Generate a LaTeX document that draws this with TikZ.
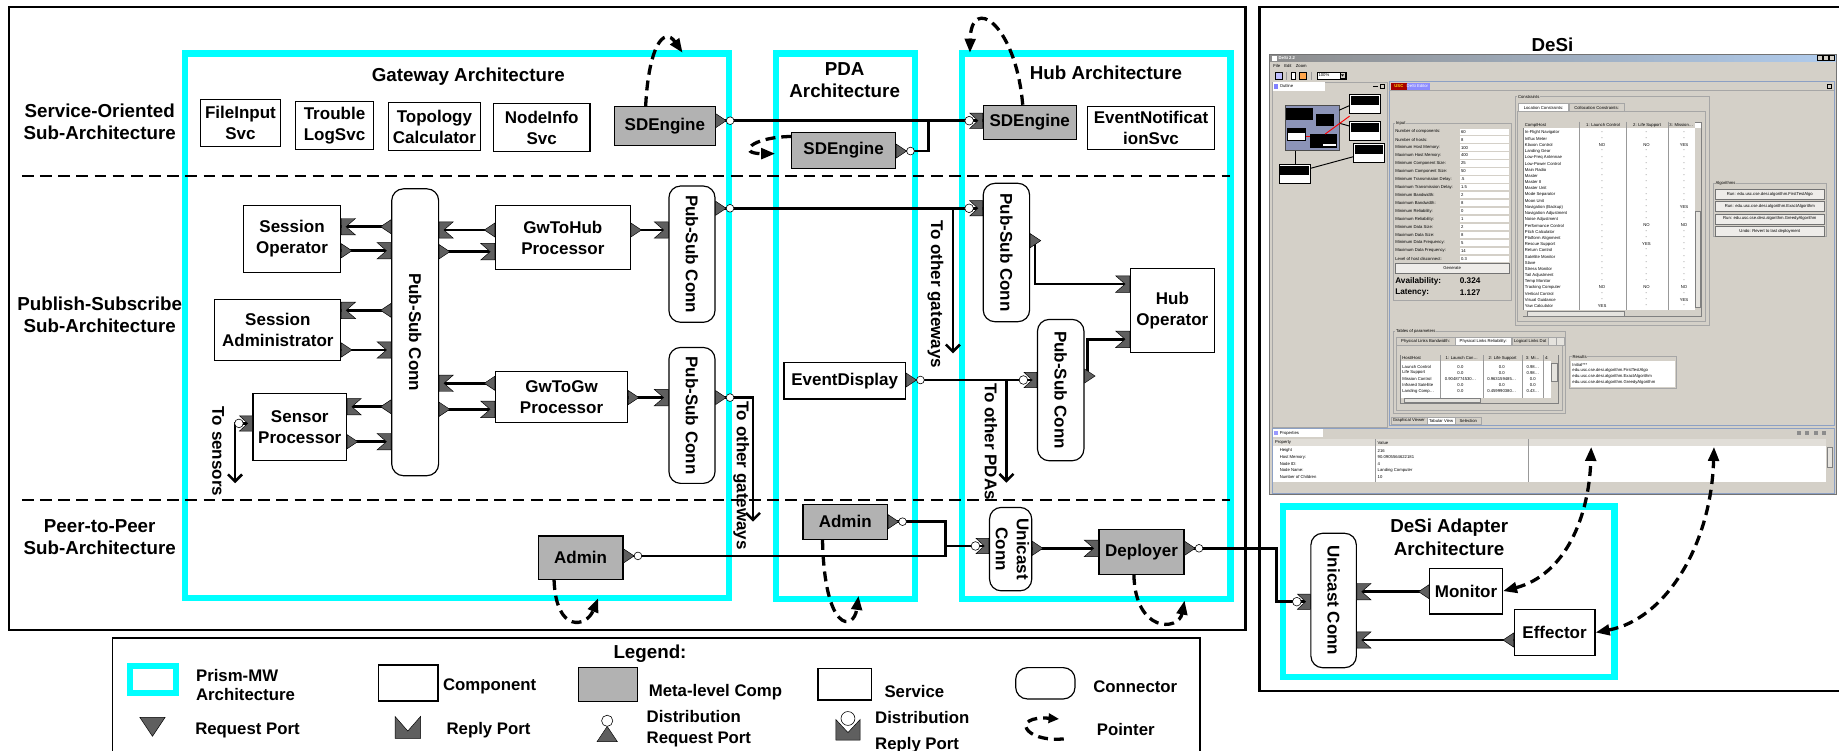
\documentclass[tikz,border=0pt]{standalone}
\usepackage{fontspec}
\setmainfont{Liberation Sans}
\usepackage{tikz}
\usetikzlibrary{arrows.meta, calc, positioning}
\usepackage{xcolor}

\definecolor{prism}{RGB}{0,255,255}
\definecolor{metagray}{RGB}{178,178,178}
\definecolor{portgray}{RGB}{95,95,95}
\definecolor{winbg}{RGB}{212,208,200}
\definecolor{winblue}{RGB}{176,204,238}
\definecolor{winframe}{RGB}{140,160,196}
\definecolor{outlinebg}{RGB}{140,148,184}

\newcommand{\ttlfont}{\bfseries\fontsize{16}{19}\selectfont}
\newcommand{\cmpfont}{\bfseries\fontsize{14.5}{18}\selectfont}
\newcommand{\lgdfont}{\bfseries\fontsize{14.3}{15.5}\selectfont}
\newcommand{\scrfont}{\fontsize{3.6}{4.2}\selectfont}

\tikzset{
  arch/.style={draw=prism, line width=5.5pt},
  outerframe/.style={draw=black, line width=2pt},
  divline/.style={line width=1.8pt, dash pattern=on 10pt off 5.5pt},
  ttl/.style={align=center, font=\ttlfont, inner sep=0pt},
  box/.style={draw=black, line width=1pt, fill=white, align=center, inner sep=0pt, font=\cmpfont},
  metabox/.style={box, fill=metagray},
  conn/.style={box, rounded corners=10pt},
  link/.style={line width=2.2pt},
  outlink/.style={link, -{Straight Barb[length=6pt, width=12pt]}},
  pointer/.style={line width=2.8pt, dash pattern=on 8.5pt off 5pt, -{Triangle[length=12pt, width=9pt]}},
  dualpointer/.style={pointer, {Triangle[length=12pt, width=9pt]}-{Triangle[length=12pt, width=9pt]}},
  lgd/.style={anchor=west, align=left, font=\lgdfont, inner sep=0pt},
  scr/.style={font=\scrfont, inner sep=0pt},
  grp/.style={draw=black!35, line width=0.4pt},
  btn/.style={draw=black!55, fill=winbg!40!white, line width=0.3pt},
  % 端口
  reqport/.pic={\filldraw[fill=portgray, draw=black, line width=0.4pt] (0,-6) -- (9,0) -- (0,6) -- cycle;},
  distreq/.pic={\filldraw[fill=portgray, draw=black, line width=0.4pt] (0,-6) -- (9,0) -- (0,6) -- cycle;
    \filldraw[fill=white, draw=black, line width=0.5pt] (12.3,0) circle (3.3);},
  repport/.pic={\filldraw[fill=portgray, draw=black, line width=0.4pt] (0,-7) -- (12,-7) -- (4,0) -- (12,7) -- (0,7) -- cycle;},
  distrep/.pic={\filldraw[fill=portgray, draw=black, line width=0.4pt] (0,-6.5) -- (11,-6.5) -- (4,0) -- (11,6.5) -- (0,6.5) -- cycle;
    \filldraw[fill=white, draw=black, line width=0.5pt] (11.5,0) circle (3.7);},
}

\begin{document}
\begin{tikzpicture}[x=1pt, y=-1pt]
    \useasboundingbox (0,0) rectangle (1568,640);

    % 外框
    \draw[outerframe] (7.5,6) rectangle (1062,537);
    \draw[outerframe] (1600,6) -- (1074,6) -- (1074,589) -- (1600,589);
    \draw[outerframe, line width=1.2pt] (96,660) -- (96,544) -- (1023,544) -- (1023,660);

    % 层次标签
    \node[ttl] (soa) at (85,104) {Service-Oriented\\Sub-Architecture};
    \node[ttl] (psa) at (85,268.3) {Publish-Subscribe\\Sub-Architecture};
    \node[ttl] (p2p) at (85,458) {Peer-to-Peer\\Sub-Architecture};

    % Prism-MW 架构
    \draw[arch] (157.7,45.8) rectangle (621.5,510);
    \draw[arch] (661.6,45.8) rectangle (780,510.5);
    \draw[arch] (820.4,45.8) rectangle (1049,510.5);
    \draw[arch] (1094,432) rectangle (1376.5,577);

    \node[ttl] (gwt) at (399.3,65.4) {Gateway Architecture};
    \node[ttl] (pdat) at (720.2,68.2) {PDA\\Architecture};
    \node[ttl] (hubt) at (943,61.7) {Hub Architecture};
    \node[ttl] (desit) at (1323.7,37.8) {DeSi};
    \node[ttl] (dadt) at (1235.6,458) {DeSi Adapter\\Architecture};

    % 分隔线
    \draw[divline] (18.6,150) -- (1049,150);
    \draw[divline] (18.6,426) -- (1049,426);

    % 服务
    \node[box, minimum width=68.6pt, minimum height=40.4pt] (fis) at (205,104.9) {FileInput\\Svc};
    \node[box, minimum width=66.1pt, minimum height=40.6pt] (tls) at (285.2,107) {Trouble\\LogSvc};
    \node[box, minimum width=78.5pt, minimum height=40.9pt] (tpc) at (370.4,108) {Topology\\Calculator};
    \node[box, minimum width=82.2pt, minimum height=41.2pt] (nis) at (461.9,108.7) {NodeInfo\\Svc};
    \node[box, minimum width=108.1pt, minimum height=36.3pt] (evn) at (981.4,109.2) {EventNotificat\\ionSvc};
    \node[metabox, minimum width=85.7pt, minimum height=32.9pt] (gsde) at (566.9,107.5) {SDEngine};
    \node[metabox, minimum width=79.3pt, minimum height=29pt] (hsde) at (878,104.3) {SDEngine};
    \node[metabox, minimum width=88.4pt, minimum height=30.7pt] (psde) at (719.3,128.2) {SDEngine};

    % 网关组件
    \node[box, minimum width=83.1pt, minimum height=56.8pt] (sop) at (249,203.8) {Session\\Operator};
    \node[box, minimum width=107.5pt, minimum height=52.3pt] (sadm) at (236.9,281.4) {Session\\Administrator};
    \node[box, minimum width=79.8pt, minimum height=57.4pt] (sproc) at (255.6,364.1) {Sensor\\Processor};
    \node[box, minimum width=114.9pt, minimum height=54.2pt] (gth) at (479.9,202.5) {GwToHub\\Processor};
    \node[box, minimum width=112.8pt, minimum height=43.5pt] (gtg) at (478.8,338.7) {GwToGw\\Processor};
    \node[conn, minimum width=40pt, minimum height=244.6pt] (gpsc) at (354,283.3) {\rotatebox{-90}{Pub-Sub Conn}};
    \node[conn, minimum width=39.3pt, minimum height=116.2pt] (gpsc1) at (590,216.7) {\rotatebox{-90}{Pub-Sub Conn}};
    \node[conn, minimum width=39.3pt, minimum height=115.9pt] (gpsc2) at (590,354.2) {\rotatebox{-90}{Pub-Sub Conn}};
    \node[metabox, minimum width=72.3pt, minimum height=37pt] (gadm) at (495,475.5) {Admin};

    % PDA 组件
    \node[box, minimum width=103.6pt, minimum height=31pt] (evd) at (720.2,324.7) {EventDisplay};
    \node[metabox, minimum width=72.1pt, minimum height=29.8pt] (padm) at (720.7,444.9) {Admin};

    % Hub 组件
    \node[conn, minimum width=39.6pt, minimum height=118pt] (hpsc1) at (858.1,215.3) {\rotatebox{-90}{Pub-Sub Conn}};
    \node[box, minimum width=71.6pt, minimum height=71.9pt] (hop) at (999.6,264.8) {Hub\\Operator};
    \node[conn, minimum width=39.6pt, minimum height=120.5pt] (hpsc2) at (904.4,332.6) {\rotatebox{-90}{Pub-Sub Conn}};
    \node[conn, minimum width=31.9pt, minimum height=71.1pt] (huc) at (861.7,468.2) {\rotatebox{-90}{\begin{tabular}{@{}c@{}}Unicast\\Conn\end{tabular}}};
    \node[metabox, minimum width=72.5pt, minimum height=38.4pt] (dep) at (973.3,470.5) {Deployer};

    % DeSi 适配器
    \node[conn, minimum width=38.8pt, minimum height=114.6pt] (duc) at (1137.1,512) {\rotatebox{-90}{Unicast Conn}};
    \node[box, minimum width=62pt, minimum height=38.9pt] (mon) at (1250,504) {Monitor};
    \node[box, minimum width=68.9pt, minimum height=39.6pt] (eff) at (1325.5,539.3) {Effector};

    % 去向标注
    \coordinate (togw1) at (812.5,301.3);
    \coordinate (togw2) at (642,444.8);
    \coordinate (tosens) at (200.4,412);
    \coordinate (topda) at (858.1,411.6);
    \coordinate (sdj) at (791.8,102.9);
    \coordinate (adj) at (806.4,465.5);
    \coordinate (dpj) at (1088.3,513);
    \node[font=\cmpfont, rotate=-90] (togw1t) at (797.7,250.8) {To other gateways};
    \node[font=\cmpfont, rotate=-90] (togw2t) at (632,405.7) {To other gateways};
    \node[font=\cmpfont, rotate=-90] (tosenst) at (186,385) {To sensors};
    \node[font=\cmpfont, rotate=-90] (topdat) at (845,376.5) {To other PDAs};

    % 连接线
    \draw[link] (gpsc.west |- 0,193.3) -- (sop.east |- 0,193.3);
    \draw[link] (sop.east |- 0,213.8) -- (gpsc.west |- 0,213.8);
    \draw[link] (gpsc.west |- 0,264.6) -- (sadm.east |- 0,264.6);
    \draw[link] (sadm.east |- 0,298.4) -- (gpsc.west |- 0,298.4);
    \draw[link] (gpsc.west |- 0,346.8) -- (sproc.east |- 0,346.8);
    \draw[link] (sproc.east |- 0,376.6) -- (gpsc.west |- 0,376.6);
    \draw[link] (gth.west |- 0,196.1) -- (gpsc.east |- 0,196.1);
    \draw[link] (gpsc.east |- 0,214.6) -- (gth.west |- 0,214.6);
    \draw[link] (gtg.west |- 0,326.8) -- (gpsc.east |- 0,326.8);
    \draw[link] (gpsc.east |- 0,349) -- (gtg.west |- 0,349);
    \draw[link] (gth.east |- 0,196.1) -- (gpsc1.west |- 0,196.1);
    \draw[link] (gtg.east |- 0,339) -- (gpsc2.west |- 0,339);
    \draw[link] (gpsc1.east |- 0,177.6) -- (hpsc1.west |- 0,177.6);
    \draw[outlink] (togw1 |- 0,177.6) -- (togw1);
    \draw[outlink] (gpsc2.east |- 0,339) -| (togw2);
    \draw[outlink] (sproc.west |- 0,361) -| (tosens);
    \draw[link] (gsde.east |- 0,102.9) -- (hsde.west |- 0,102.9);
    \draw[link] (psde.east |- 0,128.8) -| (sdj);
    \draw[link] (evd.east |- 0,324) -- (hpsc2.west |- 0,324);
    \draw[outlink] (topda |- 0,324) -- (topda);
    \draw[link] ($(hpsc1.east |- 0,205.2)+(4,0)$) |- (hop.west |- 0,242.2);
    \draw[link] ($(hpsc2.east |- 0,320.6)+(2.5,0)$) |- (hop.west |- 0,289.3);
    \draw[link] (gadm.east |- 0,474) -| (adj);
    \draw[link] (padm.east |- 0,444.8) -| (adj);
    \draw[link] (adj) -- (huc.west |- adj);
    \draw[link] (huc.east |- 0,467.5) -- (dep.west |- 0,467.5);
    \draw[link] (dep.east |- 0,467.5) -| (dpj) -- (duc.west |- dpj);
    \draw[link] (mon.west |- 0,504.5) -- (duc.east |- 0,504.5);
    \draw[link] (eff.west |- 0,545.7) -- (duc.east |- 0,545.7);

    % 端口
    \pic[rotate=180] at (gpsc.west |- 0,193.3) {reqport};
    \pic at (sop.east |- 0,193.3) {repport};
    \pic at (sop.east |- 0,213.8) {reqport};
    \pic[rotate=180] at (gpsc.west |- 0,213.8) {repport};
    \pic[rotate=180] at (gpsc.west |- 0,264.6) {reqport};
    \pic at (sadm.east |- 0,264.6) {repport};
    \pic at (sadm.east |- 0,298.4) {reqport};
    \pic[rotate=180] at (gpsc.west |- 0,298.4) {repport};
    \pic[rotate=180] at (gpsc.west |- 0,346.8) {reqport};
    \pic at (sproc.east |- 0,346.8) {repport};
    \pic at (sproc.east |- 0,376.6) {reqport};
    \pic[rotate=180] at (gpsc.west |- 0,376.6) {repport};
    \pic[rotate=180] at (gth.west |- 0,196.1) {reqport};
    \pic at (gpsc.east |- 0,196.1) {repport};
    \pic at (gpsc.east |- 0,214.6) {reqport};
    \pic[rotate=180] at (gth.west |- 0,214.6) {repport};
    \pic[rotate=180] at (gtg.west |- 0,326.8) {reqport};
    \pic at (gpsc.east |- 0,326.8) {repport};
    \pic at (gpsc.east |- 0,349) {reqport};
    \pic[rotate=180] at (gtg.west |- 0,349) {repport};
    \pic at (gth.east |- 0,196.1) {reqport};
    \pic[rotate=180] at (gpsc1.west |- 0,196.1) {repport};
    \pic at (gtg.east |- 0,339) {reqport};
    \pic[rotate=180] at (gpsc2.west |- 0,339) {repport};
    \pic at (gpsc1.east |- 0,177.6) {distreq};
    \pic at (gpsc2.east |- 0,339) {distreq};
    \pic[rotate=180] at (sproc.west |- 0,361) {distrep};
    \pic at (gsde.east |- 0,102.9) {distreq};
    \pic at (gadm.east |- 0,474) {distreq};
    \pic at (psde.east |- 0,128.8) {distreq};
    \pic at (evd.east |- 0,324) {distreq};
    \pic at (padm.east |- 0,444.8) {distreq};
    \pic[rotate=180] at (hsde.west |- 0,102.9) {distrep};
    \pic[rotate=180] at (hpsc1.west |- 0,177.6) {distrep};
    \pic at (hpsc1.east |- 0,205.2) {reqport};
    \pic[rotate=180] at (hop.west |- 0,242.2) {repport};
    \pic[rotate=180] at (hpsc2.west |- 0,324) {distrep};
    \pic at (hpsc2.east |- 0,320.6) {reqport};
    \pic[rotate=180] at (hop.west |- 0,289.3) {repport};
    \pic[rotate=180] at (huc.west |- 0,465.5) {distrep};
    \pic at (huc.east |- 0,467.5) {reqport};
    \pic[rotate=180] at (dep.west |- 0,467.5) {repport};
    \pic at (dep.east |- 0,467.5) {distreq};
    \pic[rotate=180] at (duc.west |- 0,513) {distrep};
    \pic at (duc.east |- 0,504.5) {repport};
    \pic at (duc.east |- 0,545.7) {repport};
    \pic[rotate=180] at (mon.west |- 0,504.5) {reqport};
    \pic[rotate=180] at (eff.west |- 0,545.7) {reqport};

    % 指针
    \draw[pointer] ($(gsde.north)+(-16.4,0)$) .. controls (553,40) and (566,22) .. (582,45);
    \draw[pointer] ($(hsde.north)+(-6,0)$) .. controls (866,20) and (828,-5) .. (827,45);
    \draw[pointer] ($(psde.north west)+(0,4)$) .. controls (640,117) and (628,131) .. (661,131);
    \draw[pointer] ($(gadm.south)+(-22.6,0)$) .. controls (474,540) and (500,535) .. (510,510);
    \draw[pointer] ($(padm.south)+(-19.4,0)$) .. controls (703,540) and (728,538) .. (732,508);
    \draw[pointer] ($(dep.south)+(-6.5,0)$) .. controls (968,540) and (1005,538) .. (1010,512);

    % DeSi 截图
    \fill[winbg] (1082.5,46.3) rectangle (1565.5,421.5);
    \shade[left color=black!45, right color=winblue] (1082.5,46.3) rectangle (1565.5,52.8);
    \draw[black!55, line width=0.5pt] (1082.5,46.3) rectangle (1565.5,421.5);
    \fill[white] (1084.2,47.6) rectangle (1088.4,51.6);
    \node[scr, text=white, anchor=west] (wtitle) at (1090,49.6) {\bfseries DeSi 2.2};
    \foreach \i in {0,1,2}
        \draw[fill=winbg, line width=0.25pt] ({1549.5+5*\i},47.4) rectangle ++(4.2,4.2);
    \node[scr, anchor=west] (wmenu) at (1085.5,56.2) {File\quad Edit\quad Zoom};
    \draw[fill=blue!25, line width=0.3pt] (1087.6,61.6) rectangle (1093.6,67.2);
    \draw[black!40, line width=0.3pt] (1097,61) -- (1097,67.8);
    \draw[fill=white, line width=0.3pt] (1100.5,61.6) rectangle (1104.5,67.2);
    \draw[fill=orange!70, line width=0.3pt] (1107.5,61.6) rectangle (1114,67.2);
    \draw[black!40, line width=0.3pt] (1118,61) -- (1118,67.8);
    \draw[fill=white, line width=0.3pt] (1122.9,61.3) rectangle (1147.5,67.4);
    \node[scr, anchor=west] (wzoom) at (1124,64.3) {100\%};
    \draw[fill=winbg, line width=0.3pt] (1142.3,61.8) rectangle (1147,66.9);
    \fill (1143.4,63.5) -- (1145.9,63.5) -- (1144.65,65.2) -- cycle;

    % 大纲面板
    \draw[black!35, line width=0.4pt] (1085,69.7) rectangle (1182.7,364);
    \fill[white] (1085.3,70) rectangle (1130,77.3);
    \fill[blue!50] (1086.5,71.6) rectangle (1089.5,75.6);
    \node[scr, anchor=west] (wout) at (1091,73.6) {Outline};
    \draw[line width=0.3pt] (1177,71.8) rectangle (1180.5,75.3);
    \draw[line width=0.3pt] (1171,73.6) -- (1174.5,73.6);
    \draw[fill=outlinebg, draw=black!70, line width=0.5pt] (1095.6,89.8) rectangle (1141.7,128.5);
    \fill[black] (1096.3,92.4) rectangle (1119.8,102.3);
    \fill[black] (1121.8,97.5) rectangle (1137.8,107.5);
    \draw[fill=white, line width=0.5pt] (1097.9,109.4) rectangle (1113.3,119.9);
    \fill[black] (1097.9,109.4) rectangle (1113.3,113);
    \fill[black] (1117.1,114.3) rectangle (1140.2,126.5);
    \fill[white] (1128,122.5) rectangle (1139,124.5);
    \draw[line width=0.8pt] (1141.7,94) -- (1150.7,90);
    \draw[line width=0.8pt] (1141.7,105) -- (1150.7,107.5);
    \draw[line width=0.8pt] (1104.3,128.5) -- (1104.3,140.1);
    \draw[line width=0.8pt] (1117.1,143.6) -- (1153.9,133.6);
    \draw[red, line width=0.8pt] (1129.9,114.3) -- (1150.7,99);
    \draw[red, line width=0.8pt] (1113.3,116) -- (1117.1,116);
    \foreach \bx/\by [count=\i] in {1150.7/80.4, 1150.7/103.7, 1153.9/122.2, 1090.5/140.1} {
        \draw[fill=white, line width=0.8pt] (\bx,\by) rectangle ++(26.6,16.2);
        \fill[black] (\bx+1.2,\by+1.2) rectangle ++(24.2,7.5);
    }

    % 编辑器面板
    \draw[winframe, line width=0.5pt] (1184.4,69.7) rectangle (1563.8,362.4);
    \draw[black!35, line width=0.3pt] (1184.4,77.3) -- (1563.8,77.3);
    \fill[red!65!black] (1186,70.4) rectangle (1199.5,77);
    \node[scr, text=yellow!80!orange] (wusc) at (1192.7,73.7) {\bfseries USC};
    \fill[blue!45] (1199.5,70.4) rectangle (1219,77);
    \node[scr, text=white] (wedt) at (1208.5,73.7) {DeSi Editor};
    \draw[line width=0.3pt] (1557.5,71.6) rectangle (1561.2,75.4);

    % 输入
    \draw[grp] (1187.5,105.2) rectangle (1288.4,255.8);
    \node[scr, fill=winbg, inner sep=0.6pt, anchor=west] (ginp) at (1189.5,105.2) {Input};
    \foreach \lab/\val [count=\i from 0] in {Number of components:/60, Number of hosts:/8,
        Minimum Host Memory:/100, Maximum Host Memory:/400, Minimum Component Size:/25,
        Maximum Component Size:/50, Minimum Transmission Delay:/.5, Maximum Transmission Delay:/1.5,
        Minimum Bandwidth:/2, Maximum Bandwidth:/8, Minimum Reliability:/0, Maximum Reliability:/1,
        Minimum Data Size:/2, Maximum Data Size:/8, Minimum Data Frequency:/5,
        Maximum Data Frequency:/14, Level of host disconnect:/0.3} {
        \fill[white] (1244.5,{109.6+6.77*\i}) rectangle (1286.8,{115+6.77*\i});
        \node[scr, anchor=west] (inl\i) at (1189.5,{112.3+6.77*\i}) {\lab};
        \node[scr, anchor=west] (inv\i) at (1245.5,{112.3+6.77*\i}) {\val};
    }
    \draw[btn] (1189.5,224.5) rectangle (1286.8,233.1);
    \node[scr] (wgen) at (1238.2,228.8) {Generate};
    \node[anchor=west, inner sep=0pt, font=\bfseries\fontsize{7}{8}\selectfont] (avl) at (1189.5,239.6) {Availability:};
    \node[anchor=west, inner sep=0pt, font=\bfseries\fontsize{7}{8}\selectfont] (avv) at (1244.5,239.6) {0.324};
    \node[anchor=west, inner sep=0pt, font=\bfseries\fontsize{7}{8}\selectfont] (lat) at (1189.5,249.5) {Latency:};
    \node[anchor=west, inner sep=0pt, font=\bfseries\fontsize{7}{8}\selectfont] (latv) at (1244.5,249.5) {1.127};

    % 约束
    \draw[grp] (1291.6,82.4) rectangle (1457.3,277.1);
    \node[scr, fill=winbg, inner sep=0.6pt, anchor=west] (gcon) at (1293.5,82.4) {Constraints};
    \draw[grp, fill=white] (1294.8,88.1) rectangle (1337.5,95.2);
    \node[scr] (tloc) at (1316.1,91.7) {Location Constraints:};
    \draw[grp] (1338.1,88.1) rectangle (1384.6,95.2);
    \node[scr] (tcol) at (1361.3,91.7) {Collocation Constraints:};
    \draw[grp] (1294,95.2) rectangle (1454,274);
    \draw[black!50, fill=white, line width=0.3pt] (1298.7,103.8) rectangle (1450.2,270);
    \fill[winbg] (1298.9,104) rectangle (1445,109.4);
    \foreach \cx in {1346.8,1386.8,1422} \draw[black!40, line width=0.3pt] (\cx,103.8) -- (\cx,264.5);
    \node[scr, anchor=west] (hcomp) at (1300,106.6) {Comp/Host};
    \node[scr] (hc1) at (1366.8,106.6) {1: Launch Control};
    \node[scr] (hc2) at (1404.4,106.6) {2: Life Support};
    \node[scr] (hc3) at (1433.5,106.6) {3: Mission\ldots};
    \foreach \nm/\ca/\cb/\cc [count=\i from 0] in {In-Flight Navigator/-/-/-, Influx Meter/-/-/-,
        Klaxon Control/NO/NO/YES, Landing Gear/-/-/-, Low-Freq Antennae/-/-/-, Low-Power Control/-/-/-,
        Main Radio/-/-/-, Master/-/-/-, Master II/-/-/-, Master Unit/-/-/-, Mode Separator/-/-/-,
        Moon Unit/-/-/-, Navigation (Backup)/-/-/YES, Navigation Adjustment/-/-/-, Noise Adjustment/-/-/-,
        Performance Control/-/NO/NO, Pitch Calculator/-/-/-, Platform Alignment/-/-/-,
        Rescue Support/-/YES/-, Return Control/-/-/-, Satellite Monitor/-/-/-, Slave/-/-/-,
        Stress Monitor/-/-/-, Tail Adjustment/-/-/-, Temp Monitor/-/-/-, Tracking Computer/NO/NO/NO,
        Vertical Control/-/-/-, Visual Guidance/-/-/YES, Yaw Calculator/YES/-/-} {
        \node[scr, anchor=west] (cn\i) at (1300,{113.1+5.28*\i}) {\nm};
        \node[scr] (ca\i) at (1366,{113.1+5.28*\i}) {\ca};
        \node[scr] (cb\i) at (1403.8,{113.1+5.28*\i}) {\cb};
        \node[scr] (cc\i) at (1435.8,{113.1+5.28*\i}) {\cc};
    }
    \fill[winbg] (1445,109.4) rectangle (1450,264.5);
    \draw[black!50, fill=winbg!60!white, line width=0.3pt] (1445.5,180) rectangle (1449.7,262);
    \fill[winbg] (1298.9,264.5) rectangle (1450,269.8);
    \draw[black!50, fill=winbg!60!white, line width=0.3pt] (1302,265) rectangle (1385,269.4);

    % 算法
    \draw[grp] (1460.4,156.3) rectangle (1557.5,201.8);
    \node[scr, fill=winbg, inner sep=0.6pt, anchor=west] (galg) at (1462,156.5) {Algorithms};
    \foreach \t [count=\i from 0] in {Run: edu.usc.cse.desi.algorithm.FirstTestAlgo,
        Run: edu.usc.cse.desi.algorithm.ExactAlgorithm, Run: edu.usc.cse.desi.algorithm.GreedyAlgorithm,
        Undo: Revert to last deployment} {
        \draw[btn] (1462.5,{161.2+10.6*\i}) rectangle (1555.5,{169.6+10.6*\i});
        \node[scr] (alg\i) at (1509,{165.4+10.6*\i}) {\t};
    }

    % 参数表
    \draw[grp] (1187.5,282.8) rectangle (1334.9,352.4);
    \node[scr, fill=winbg, inner sep=0.6pt, anchor=west] (gtab) at (1189.5,282.8) {Tables of parameters};
    \draw[grp] (1190.7,287.6) rectangle (1240.4,294.7);
    \node[scr] (tpb) at (1215.5,291.2) {Physical Links Bandwidth:};
    \draw[grp, fill=white] (1241.1,287.6) rectangle (1288.4,294.7);
    \node[scr] (tpr) at (1264.7,291.2) {Physical Links Reliability:};
    \draw[grp] (1289,287.6) rectangle (1320.4,294.7);
    \node[scr] (tld) at (1304.7,291.2) {Logical Links Dat};
    \draw[grp, fill=winbg!60!white] (1320.4,287.6) rectangle (1326.8,294.7);
    \draw[grp, fill=winbg!60!white] (1326.8,287.6) rectangle (1333.3,294.7);
    \draw[grp] (1190.5,294.7) rectangle (1332,349.5);
    \draw[black!50, fill=white, line width=0.3pt] (1194,302.7) rectangle (1328.5,343.9);
    \fill[winbg] (1194.2,302.9) rectangle (1322.1,308.2);
    \foreach \cx in {1228.3,1264.4,1298.1,1315.7} \draw[black!40, line width=0.3pt] (\cx,302.7) -- (\cx,339.5);
    \node[scr, anchor=west] (hhost) at (1195.5,305.6) {Host/Host};
    \node[scr] (hl1) at (1246.3,305.6) {1: Launch Con\ldots};
    \node[scr] (hl2) at (1281.2,305.6) {2: Life Support};
    \node[scr] (hl3) at (1306.9,305.6) {3: Mi\ldots};
    \node[scr] (hl4) at (1318.9,305.6) {4:};
    \foreach \nm/\ca/\cb/\cc [count=\i from 0] in {Launch Control/0.0/0.0/0.98\ldots, Life Support/0.0/0.0/0.98\ldots,
        Mission Control/0.9048774530\ldots/0.963159485\ldots/0.0, Infrared Satellite/0.0/0.0/0.0,
        Landing Comp\ldots/0.0/0.459990380\ldots/0.43\ldots} {
        \node[scr, anchor=west] (pn\i) at (1195.5,{312.6+5.2*\i}) {\nm};
        \node[scr] (pa\i) at (1245.2,{312.6+5.2*\i}) {\ca};
        \node[scr] (pb\i) at (1280.4,{312.6+5.2*\i}) {\cb};
        \node[scr] (pc\i) at (1306.9,{312.6+5.2*\i}) {\cc};
    }
    \fill[winbg] (1322.1,302.9) rectangle (1328.3,339.5);
    \draw[black!50, fill=winbg!60!white, line width=0.3pt] (1322.6,310) rectangle (1328,325);
    \fill[winbg] (1194.2,339.5) rectangle (1328.3,343.7);
    \draw[black!50, fill=winbg!60!white, line width=0.3pt] (1197,339.9) rectangle (1262,343.3);

    % 结果
    \draw[grp] (1338.1,304.1) rectangle (1429.4,331);
    \node[scr, fill=winbg, inner sep=0.6pt, anchor=west] (gres) at (1340,304.1) {Results};
    \fill[white] (1339.5,307.5) rectangle (1428,329.7);
    \foreach \t [count=\i from 0] in {Initial***, edu.usc.cse.desi.algorithm.FirstTestAlgo,
        edu.usc.cse.desi.algorithm.ExactAlgorithm, edu.usc.cse.desi.algorithm.GreedyAlgorithm}
        \node[scr, anchor=west] (res\i) at (1340.5,{311+5.1*\i}) {\t};

    % 视图标签
    \draw[grp] (1186,355.5) rectangle (1216.5,362);
    \node[scr] (vgv) at (1201.2,358.7) {Graphical Viewer};
    \draw[grp, fill=white] (1216.5,355.5) rectangle (1241,362);
    \node[scr] (vtv) at (1228.7,358.7) {Tabular View};
    \draw[grp] (1241,355.5) rectangle (1262.8,362);
    \node[scr] (vsel) at (1251.9,358.7) {Selection};

    % 属性面板
    \draw[winframe, line width=0.5pt] (1085,365.2) rectangle (1563.8,420.6);
    \fill[white] (1085.3,365.5) rectangle (1128,373);
    \fill[blue!40] (1086.5,367.3) rectangle (1089.5,371.2);
    \node[scr, anchor=west] (wprop) at (1091,369.2) {Properties};
    \foreach \i in {0,1,2,3} \fill[black!45] ({1532+7.2*\i},367.6) rectangle ++(3.6,3.4);
    \fill[white] (1085.5,374.5) rectangle (1557,411);
    \fill[winbg!70!white] (1085.5,374.5) rectangle (1557,380.5);
    \foreach \cx in {1172.5,1302.9} \draw[black!40, line width=0.3pt] (\cx,374.5) -- (\cx,411);
    \node[scr, anchor=west] (hprop) at (1087,377.5) {Property};
    \node[scr, anchor=west] (hval) at (1174.5,377.5) {Value};
    \foreach \nm/\v [count=\i from 0] in {Height/216, Host Memory:/90.0905564622181, Node ID:/4,
        Node Name:/Landing Computer, Number of Children/10} {
        \node[scr, anchor=west] (prn\i) at (1091,{384.3+5.6*\i}) {\nm};
        \node[scr, anchor=west] (prv\i) at (1174.5,{384.3+5.6*\i}) {\v};
    }
    \fill[winbg] (1557,374.5) rectangle (1562.5,411);
    \draw[black!50, fill=winbg!60!white, line width=0.3pt] (1557.5,381) rectangle (1562,398);

    % 监控与执行
    \draw[dualpointer] (mon.east) .. controls (1335,490) and (1355,440) .. (1356.7,381);
    \draw[dualpointer] (eff.east) .. controls (1420,528) and (1459,465) .. (1461.4,381);

    % 图例
    \node[ttl] (lgdt) at (554.2,557) {Legend:};
    \draw[prism, line width=5pt] (110.9,567.5) rectangle (149.8,591);
    \node[lgd] (lprt) at (167,584) {Prism-MW\\Architecture};
    \node[box, minimum width=50.6pt, minimum height=30.7pt] (lcomp) at (348.1,582.4) {};
    \node[lgd] (lcompt) at (377.6,585.5) {Component};
    \node[metabox, minimum width=49.9pt, minimum height=29.3pt] (lmeta) at (518.3,583.7) {};
    \node[lgd] (lmetat) at (553,589.8) {Meta-level Comp};
    \node[box, minimum width=45.6pt, minimum height=27pt] (lsvc) at (720.2,583.4) {};
    \node[lgd] (lsvct) at (754,589.8) {Service};
    \node[conn, minimum width=50.6pt, minimum height=26.7pt] (lconn) at (891.3,582.6) {};
    \node[lgd] (lconnt) at (932,585.5) {Connector};
    \pic[rotate=-90, scale=1.8] at (130,611.6) {reqport};
    \node[lgd] (lreqt) at (166.3,622.4) {Request Port};
    \pic[rotate=90, scale=1.55] at (347.7,629.5) {repport};
    \node[lgd] (lrept) at (380.6,622.4) {Reply Port};
    \pic[rotate=90, scale=1.45] at (517.7,632.4) {distreq};
    \node[lgd, font=\bfseries\fontsize{14.3}{18}\selectfont] (ldreqt) at (551.2,621.5) {Distribution\\Request Port};
    \pic[rotate=90, scale=1.6] at (723,631) {distrep};
    \node[lgd, font=\bfseries\fontsize{14.3}{22}\selectfont] (ldrept) at (746,624) {Distribution\\Reply Port};
    \draw[pointer, -{Triangle[length=9pt, width=8pt]}] (907,630) .. controls (872,633) and (862,610) .. (903,613);
    \node[lgd] (lptrt) at (935,622.4) {Pointer};
\end{tikzpicture}
\end{document}
